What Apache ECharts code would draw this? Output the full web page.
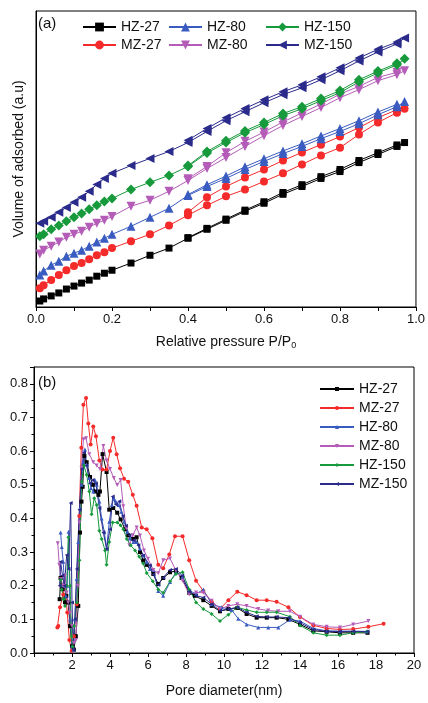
<!DOCTYPE html>
<html>
<head>
<meta charset="utf-8">
<script src="https://cdn.jsdelivr.net/npm/echarts@6/dist/echarts.min.js"></script>
<style>
html,body{margin:0;padding:0;background:#fff;}
#a{position:absolute;left:0;top:0;width:428px;height:355px;}
#b{position:absolute;left:0;top:355px;width:428px;height:348px;}
</style>
</head>
<body>
<div id="a"></div>
<div id="b"></div>
<script>
// ---------- (a) isotherms ----------
const pressAds = [0.01,0.02,0.04,0.06,0.08,0.1,0.12,0.14,0.16,0.18,0.2,0.25,0.3,0.35,0.4,0.45,0.5,0.55,0.6,0.65,0.7,0.75,0.8,0.85,0.9,0.95,0.97];
const pressDes = [0.95,0.9,0.85,0.8,0.75,0.7,0.65,0.6,0.55,0.5,0.45,0.4];
const hz27Ads = [2.0,2.7,3.7,4.7,6.0,7.0,8.0,9.0,10.3,11.3,12.3,14.7,17.3,19.7,23.0,26.0,29.0,32.0,34.7,37.7,40.3,43.0,45.3,48.3,51.0,53.7,55.0];
const hz27Des = [54.2,51.6,49.0,46.0,43.6,40.9,38.3,35.2,32.4,29.4,26.3,23.2];
const mz27Ads = [6.3,7.3,9.0,10.7,12.3,13.7,14.7,16.0,17.3,18.3,19.7,22.0,24.3,27.3,30.7,34.0,37.0,39.3,42.0,44.7,47.7,50.7,53.3,57.7,61.7,65.0,66.3];
const mz27Des = [66.0,63.3,60.0,57.0,54.3,51.7,49.0,46.0,43.3,40.3,36.7,31.7];
const hz80Ads = [10.7,12.0,14.0,15.3,17.0,18.0,19.0,20.3,21.7,23.0,24.3,27.0,30.0,33.0,37.3,40.3,43.0,46.0,48.7,51.3,53.7,56.3,58.7,61.3,64.3,67.0,68.7];
const hz80Des = [67.8,65.2,62.3,59.7,57.2,54.6,52.2,49.6,46.9,43.8,40.9,37.6];
const mz80Ads = [17.7,19.0,20.3,21.7,23.3,24.3,25.3,26.7,28.0,29.0,30.3,33.7,35.7,38.7,42.3,46.3,50.0,53.7,57.3,60.7,63.7,66.7,70.0,72.7,75.7,77.7,79.0];
const mz80Des = [78.5,76.8,73.8,71.2,67.9,64.9,61.9,58.5,55.4,51.6,47.0,42.9];
const hz150Ads = [23.7,24.3,26.0,27.3,28.7,30.0,31.3,32.7,34.0,35.3,36.3,39.3,41.7,44.0,47.0,51.5,55.0,58.3,61.0,64.0,66.3,69.0,71.7,75.3,78.3,81.0,83.0];
const hz150Des = [81.5,78.9,76.0,72.4,69.7,67.0,64.7,61.7,58.9,55.6,52.0,47.3];
const mz150Ads = [28.0,28.7,30.0,31.7,33.3,35.0,36.7,38.7,41.0,43.0,44.7,47.3,49.7,52.0,55.0,58.7,62.3,65.3,68.3,71.0,73.3,76.0,79.0,82.3,85.3,88.0,90.0];
const mz150Des = [88.6,86.2,83.3,80.0,77.0,74.3,72.0,69.3,66.4,63.3,59.7,55.8];

// ---------- (b) pore size distribution ----------
const hz27X = [1.35,1.4,1.5,1.63,1.7,1.8,1.9,2.0,2.1,2.2,2.33,2.42,2.5,2.56,2.65,2.77,2.95,3.1,3.21,3.39,3.47,3.61,3.82,3.96,4.17,4.38,4.56,4.79,4.96,5.23,5.4,5.58,5.75,5.93,6.28,6.54,6.8,7.16,7.47,7.77,8.17,8.47,8.91,9.35,9.79,10.23,10.7,11.19,11.72,12.25,12.77,13.39,14.0,14.7,15.4,16.1,16.8,17.55];
const hz27Y = [0.16,0.223,0.19,0.151,0.17,0.15,0.08,0.02,0.01,0.05,0.14,0.358,0.45,0.494,0.586,0.567,0.523,0.5,0.48,0.47,0.48,0.591,0.538,0.426,0.431,0.417,0.397,0.368,0.35,0.339,0.344,0.3,0.275,0.262,0.235,0.205,0.223,0.24,0.244,0.223,0.179,0.17,0.157,0.14,0.124,0.131,0.134,0.116,0.105,0.105,0.105,0.1,0.085,0.066,0.063,0.06,0.06,0.06];
const mz27X = [1.23,1.28,1.37,1.54,1.63,1.75,1.86,1.98,2.1,2.25,2.38,2.49,2.6,2.74,2.86,2.98,3.12,3.26,3.44,3.6,3.82,4.0,4.17,4.35,4.53,4.74,4.96,5.2,5.4,5.67,5.93,6.23,6.54,6.8,7.12,7.42,7.82,8.17,8.53,8.91,9.35,9.79,10.23,10.7,11.19,11.72,12.25,12.77,13.39,14.0,14.7,15.4,16.1,16.8,17.6,18.4];
const mz27Y = [0.076,0.08,0.136,0.174,0.199,0.12,0.039,0.006,0.05,0.145,0.407,0.61,0.738,0.758,0.682,0.62,0.673,0.644,0.572,0.545,0.545,0.6,0.64,0.591,0.549,0.518,0.509,0.47,0.438,0.373,0.368,0.341,0.262,0.252,0.293,0.347,0.347,0.276,0.215,0.184,0.153,0.131,0.157,0.182,0.172,0.157,0.157,0.152,0.136,0.107,0.082,0.073,0.07,0.071,0.078,0.087];
const hz80X = [1.4,1.46,1.54,1.6,1.68,1.75,1.82,1.9,2.0,2.07,2.15,2.25,2.33,2.42,2.51,2.6,2.68,2.77,2.9,3.0,3.12,3.21,3.3,3.44,3.56,3.7,3.82,3.96,4.1,4.2,4.31,4.45,4.6,4.75,4.9,5.05,5.23,5.4,5.58,5.75,5.93,6.1,6.28,6.54,6.8,7.16,7.47,7.8,8.17,8.53,8.91,9.35,9.88,10.4,10.75,11.19,11.8,12.33,12.86,13.47,14.0,14.7,15.4,16.1,16.8,17.5];
const hz80Y = [0.358,0.315,0.271,0.2,0.17,0.2,0.36,0.1,0.02,0.01,0.1,0.22,0.33,0.43,0.5,0.567,0.605,0.56,0.52,0.49,0.48,0.514,0.5,0.45,0.4,0.36,0.31,0.39,0.44,0.46,0.45,0.44,0.42,0.39,0.36,0.34,0.33,0.33,0.31,0.29,0.27,0.25,0.247,0.184,0.17,0.211,0.24,0.225,0.186,0.175,0.189,0.145,0.136,0.128,0.102,0.085,0.076,0.076,0.076,0.099,0.095,0.073,0.066,0.065,0.065,0.064];
const mz80X = [1.25,1.33,1.42,1.54,1.63,1.72,1.8,1.9,2.0,2.1,2.21,2.3,2.39,2.5,2.6,2.74,2.91,3.12,3.3,3.47,3.65,3.82,4.0,4.2,4.38,4.56,4.7,4.86,5.02,5.2,5.4,5.58,5.79,6.0,6.28,6.54,6.8,7.16,7.47,7.82,8.17,8.53,8.91,9.35,9.79,10.23,10.7,11.19,11.8,12.33,12.86,13.47,14.0,14.7,15.4,16.1,16.8,17.6];
const mz80Y = [0.326,0.262,0.22,0.199,0.23,0.18,0.15,0.12,0.08,0.03,0.039,0.2,0.388,0.55,0.635,0.638,0.591,0.567,0.557,0.547,0.615,0.572,0.547,0.52,0.499,0.514,0.436,0.37,0.32,0.35,0.373,0.349,0.305,0.28,0.247,0.237,0.276,0.281,0.245,0.215,0.174,0.18,0.179,0.155,0.131,0.14,0.145,0.14,0.131,0.126,0.124,0.124,0.108,0.085,0.078,0.076,0.085,0.095];
const hz150X = [1.4,1.46,1.55,1.63,1.72,1.81,1.9,1.97,2.03,2.12,2.25,2.39,2.51,2.63,2.77,2.91,3.03,3.17,3.3,3.44,3.56,3.74,3.82,3.96,4.14,4.38,4.55,4.7,4.88,5.09,5.32,5.54,5.75,5.93,6.25,6.54,6.8,7.16,7.47,7.82,8.17,8.53,8.91,9.35,9.79,10.23,10.7,11.19,11.72,12.25,12.77,13.47,14.0,14.7,15.4,16.1,16.8,17.55];
const hz150Y = [0.218,0.189,0.16,0.14,0.2,0.344,0.2,0.05,0.019,0.08,0.15,0.276,0.509,0.557,0.53,0.48,0.412,0.46,0.44,0.363,0.339,0.305,0.262,0.33,0.388,0.388,0.38,0.368,0.339,0.32,0.305,0.286,0.266,0.238,0.213,0.189,0.179,0.213,0.235,0.24,0.189,0.15,0.131,0.116,0.095,0.114,0.136,0.128,0.121,0.121,0.121,0.108,0.082,0.06,0.053,0.053,0.06,0.064];
const mz150X = [1.35,1.4,1.5,1.6,1.72,1.82,1.93,2.0,2.07,2.15,2.25,2.39,2.51,2.63,2.77,2.95,3.09,3.26,3.44,3.65,3.82,4.0,4.14,4.31,4.49,4.67,4.84,5.02,5.25,5.49,5.75,6.1,6.28,6.54,6.8,7.16,7.47,7.8,8.17,8.53,8.91,9.35,9.79,10.23,10.7,11.19,11.72,12.25,12.77,13.39,14.0,14.7,15.4,16.1,16.8,17.55];
const mz150Y = [0.2,0.271,0.23,0.2,0.291,0.25,0.446,0.15,0.01,0.1,0.25,0.426,0.547,0.596,0.557,0.504,0.514,0.504,0.431,0.358,0.31,0.368,0.465,0.441,0.451,0.407,0.378,0.349,0.335,0.32,0.29,0.26,0.233,0.203,0.224,0.247,0.25,0.23,0.183,0.17,0.165,0.145,0.126,0.13,0.136,0.121,0.109,0.107,0.107,0.105,0.09,0.07,0.064,0.064,0.064,0.064];

const FONT = '"Liberation Sans", Arial, sans-serif';
const zip = (xs, ys) => xs.map((x, i) => [x, ys[i]]);

const samples = [
  {name:'HZ-27', color:'#000000', symbol:'rect', rot:0, sizeA:7, ads:hz27Ads, des:hz27Des, px:hz27X, py:hz27Y},
  {name:'MZ-27', color:'#f52a2a', symbol:'circle', rot:0, sizeA:8, ads:mz27Ads, des:mz27Des, px:mz27X, py:mz27Y},
  {name:'HZ-80', color:'#3a5cc0', symbol:'triangle', rot:0, sizeA:9, ads:hz80Ads, des:hz80Des, px:hz80X, py:hz80Y},
  {name:'MZ-80', color:'#b45cb8', symbol:'triangle', rot:180, sizeA:9, ads:mz80Ads, des:mz80Des, px:mz80X, py:mz80Y},
  {name:'HZ-150', color:'#179a3c', symbol:'diamond', rot:0, sizeA:10, ads:hz150Ads, des:hz150Des, px:hz150X, py:hz150Y},
  {name:'MZ-150', color:'#2b2b8c', symbol:'triangle', rot:90, sizeA:9, ads:mz150Ads, des:mz150Des, px:mz150X, py:mz150Y}
];

// ---------- chart (a) ----------
const seriesA = [];
samples.forEach(s => {
  [[pressAds, s.ads], [pressDes, s.des]].forEach(([xs, ys]) => {
    seriesA.push({
      type:'line', name:s.name, data:zip(xs, ys), showAllSymbol:true,
      symbol:s.symbol, symbolRotate:s.rot, symbolSize:s.sizeA,
      itemStyle:{color:s.color}, lineStyle:{color:s.color, width:1},
      animation:false
    });
  });
});
const legA = (left, names) => ({
  left:left, top:15, orient:'vertical', data:names,
  itemWidth:33, itemHeight:11, itemGap:4,
  textStyle:{fontSize:14, fontFamily:FONT, color:'#111'}
});
const chartA = echarts.init(document.getElementById('a'));
chartA.setOption({
  animation:false,
  backgroundColor:'#fff',
  grid:{left:36, right:9, top:11, bottom:46, show:true, borderColor:'#000', borderWidth:1},
  legend:[legA(77,['HZ-27','MZ-27']), legA(163,['HZ-80','MZ-80']), legA(260,['HZ-150','MZ-150'])],
  graphic:[{type:'text', left:38, top:16, style:{text:'(a)', font:'15px ' + FONT, fill:'#111'}}],
  xAxis:{
    type:'value', min:0, max:1, interval:0.1,
    name:'Relative pressure P/P{s|0}', nameLocation:'middle', nameGap:28,
    nameTextStyle:{fontSize:14, fontFamily:FONT, color:'#111', rich:{s:{fontSize:9, fontFamily:FONT, color:'#111', verticalAlign:'bottom', padding:[6,0,0,0]}}},
    axisLine:{lineStyle:{color:'#000', width:1}},
    axisTick:{length:4, lineStyle:{color:'#000'}},
    axisLabel:{fontSize:13, fontFamily:FONT, color:'#111', margin:6,
      formatter:v => (Math.round(v*10) % 2 === 0 ? v.toFixed(1) : '')},
    splitLine:{show:false}
  },
  yAxis:{
    type:'value', min:0, max:99,
    name:'Volume of adsorbed (a.u)', nameLocation:'middle', nameGap:10,
    nameTextStyle:{fontSize:14, fontFamily:FONT, color:'#111'},
    axisLine:{show:true, lineStyle:{color:'#000', width:1}},
    axisTick:{show:false}, axisLabel:{show:false}, splitLine:{show:false}
  },
  series:seriesA
});

// ---------- chart (b) ----------
const seriesB = samples.map(s => ({
  type:'line', name:s.name, data:zip(s.px, s.py), showAllSymbol:true,
  symbol:s.symbol, symbolRotate:s.rot, symbolSize:4,
  itemStyle:{color:s.color}, lineStyle:{color:s.color, width:1},
  animation:false
}));
const chartB = echarts.init(document.getElementById('b'));
chartB.setOption({
  animation:false,
  backgroundColor:'#fff',
  grid:{left:34, right:14, top:12, bottom:43, show:true, borderColor:'#000', borderWidth:1},
  legend:{
    left:314, top:22, orient:'vertical', data:samples.map(s => s.name),
    itemWidth:34, itemHeight:5, itemGap:5,
    textStyle:{fontSize:14, fontFamily:FONT, color:'#111'}
  },
  graphic:[{type:'text', left:38, top:20, style:{text:'(b)', font:'15px ' + FONT, fill:'#111'}}],
  xAxis:{
    type:'value', min:0, max:20, interval:2,
    name:'Pore diameter(nm)', nameLocation:'middle', nameGap:31,
    nameTextStyle:{fontSize:14, fontFamily:FONT, color:'#111'},
    axisLine:{lineStyle:{color:'#000', width:1}},
    axisTick:{length:4, lineStyle:{color:'#000'}},
    minorTick:{show:true, splitNumber:2, length:2.5, lineStyle:{color:'#000'}},
    axisLabel:{fontSize:13, fontFamily:FONT, color:'#111', margin:6,
      formatter:v => (v === 0 ? '' : String(v))},
    splitLine:{show:false}, minorSplitLine:{show:false}
  },
  yAxis:{
    type:'value', min:0, max:0.85, interval:0.1,
    axisLine:{show:true, lineStyle:{color:'#000', width:1}},
    axisTick:{show:true, length:4, lineStyle:{color:'#000'}},
    minorTick:{show:true, splitNumber:2, length:2.5, lineStyle:{color:'#000'}},
    axisLabel:{fontSize:13, fontFamily:FONT, color:'#111', margin:6, showMaxLabel:false,
      formatter:v => v.toFixed(1)},
    splitLine:{show:false}, minorSplitLine:{show:false}
  },
  series:seriesB
});
</script>
</body>
</html>
